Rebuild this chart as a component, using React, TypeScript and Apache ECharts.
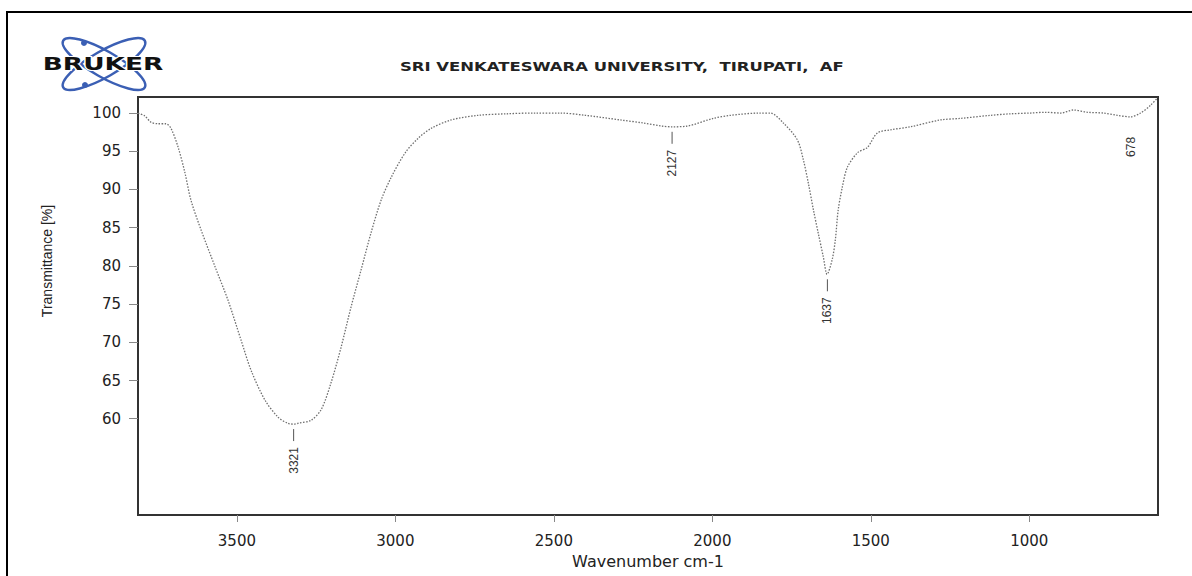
import React, { useEffect, useRef } from "react";
import * as echarts from "echarts";

// Spectrum (wavenumber cm-1, transmittance %)
const wavenumbers = [
  3812, 3790, 3771, 3749, 3724, 3708, 3686, 3664, 3645, 3613, 3569, 3528, 3487, 3455, 3411, 3370,
  3339, 3321, 3307, 3266, 3234, 3203, 3171, 3140, 3108, 3077, 3045, 3013, 2969, 2928, 2887, 2824,
  2739, 2650, 2560, 2480, 2400, 2291, 2218, 2160, 2127, 2079, 1997, 1943, 1849, 1817, 1776, 1732,
  1713, 1697, 1681, 1666, 1650, 1638, 1622, 1612, 1603, 1590, 1574, 1542, 1511, 1479, 1438, 1375,
  1280, 1217, 1123, 1060, 997, 949, 901, 861, 816, 766, 722, 681, 649, 618, 595,
];
const transmittance = [
  100.0, 99.6, 98.8, 98.6, 98.6, 98.0, 95.6, 92.2, 88.6, 84.7, 79.9, 75.5, 70.3, 66.3, 62.4, 60.2,
  59.4, 59.3, 59.4, 59.8, 61.2, 64.7, 69.4, 74.6, 79.5, 84.3, 88.6, 91.6, 94.8, 96.7, 98.0, 99.1,
  99.7, 99.9, 100.0, 100.0, 99.7, 99.1, 98.7, 98.3, 98.2, 98.3, 99.3, 99.7, 100.0, 100.0, 98.7, 96.5,
  93.9, 90.8, 87.3, 84.3, 81.2, 78.9, 80.8, 83.4, 87.3, 90.3, 92.9, 94.8, 95.5, 97.4, 97.8, 98.2,
  99.1, 99.3, 99.7, 99.9, 100.0, 100.1, 100.0, 100.4, 100.1, 100.0, 99.7, 99.5, 100.0, 101.0, 102.0,
];

// Peak picks
const peakWavenumbers = [3321, 2127, 1637, 678];
const peakTransmittance = [59.3, 98.2, 78.9, 99.5];
const peakTickShown = [1, 1, 1, 0];

// Axis ticks
const xTicks = [1000, 1500, 2000, 2500, 3000, 3500];
const yTicks = [60, 65, 70, 75, 80, 85, 90, 95, 100];

const titleText = "SRI VENKATESWARA UNIVERSITY,  TIRUPATI,  AF";
const xName = "Wavenumber cm-1";
const yName = "Transmittance [%]";

export default function App() {
  const ref = useRef<HTMLDivElement>(null);

  useEffect(() => {
    if (!ref.current) return;
    const chart = echarts.init(ref.current, null, { renderer: "svg" });

    const spectrum = wavenumbers.map((w, i) => [w, transmittance[i]]);
    const peaks = peakWavenumbers.map((w, i) => [w, peakTransmittance[i], peakTickShown[i]]);
    const blue = "#3b5fb4";

    chart.setOption({
      animation: false,
      backgroundColor: "#ffffff",
      grid: {
        left: 138,
        top: 97,
        right: 34,
        bottom: 61,
        show: true,
        borderColor: "#333",
        borderWidth: 2,
        containLabel: false,
      },
      xAxis: {
        type: "value",
        inverse: true,
        min: 594,
        max: 3812,
        name: xName,
        nameLocation: "middle",
        nameGap: 38,
        nameTextStyle: { fontFamily: "DejaVu Sans", fontSize: 16, color: "#222" },
        axisLine: { show: false },
        splitLine: { show: false },
        axisTick: { show: true, length: 7, lineStyle: { color: "#888" }, customValues: xTicks },
        axisLabel: {
          customValues: xTicks,
          formatter: (v: number) => String(v),
          margin: 18,
          fontFamily: "DejaVu Sans",
          fontSize: 15,
          color: "#222",
        },
      },
      yAxis: {
        type: "value",
        min: 47.4,
        max: 102.1,
        axisLine: { show: false },
        splitLine: { show: false },
        axisTick: { show: true, length: 9, lineStyle: { color: "#888" }, customValues: yTicks },
        axisLabel: {
          customValues: yTicks,
          formatter: (v: number) => String(v),
          margin: 17,
          fontFamily: "DejaVu Sans",
          fontSize: 15,
          color: "#222",
        },
      },
      graphic: [
        {
          type: "rect",
          silent: true,
          shape: { x: 7, y: 12, width: 1250, height: 650 },
          style: { fill: "none", stroke: "#000", lineWidth: 2 },
        },
        {
          type: "ellipse",
          x: 104,
          y: 64,
          rotation: -0.52,
          shape: { cx: 0, cy: 0, rx: 47, ry: 13 },
          style: { fill: "none", stroke: blue, lineWidth: 2.5 },
        },
        {
          type: "ellipse",
          x: 104,
          y: 64,
          rotation: 0.52,
          shape: { cx: 0, cy: 0, rx: 47, ry: 13 },
          style: { fill: "none", stroke: blue, lineWidth: 2.5 },
        },
        { type: "circle", shape: { cx: 84, cy: 43, r: 3 }, style: { fill: blue } },
        { type: "circle", shape: { cx: 85, cy: 85, r: 3 }, style: { fill: blue } },
        {
          type: "text",
          x: 103,
          y: 64,
          scaleX: 1.55,
          style: {
            text: "BRUKER",
            font: "bold 17px 'DejaVu Sans'",
            fill: "#111",
            stroke: "#fff",
            lineWidth: 2,
            strokeFirst: true,
            align: "center",
            verticalAlign: "middle",
          },
        },
        {
          type: "text",
          x: 400,
          y: 66,
          scaleX: 1.265,
          style: {
            text: titleText,
            font: "bold 13px 'DejaVu Sans'",
            fill: "#222",
            align: "left",
            verticalAlign: "middle",
          },
        },
        {
          type: "text",
          x: 47,
          y: 261,
          rotation: Math.PI / 2,
          style: {
            text: yName,
            font: "14px 'Liberation Sans'",
            fill: "#222",
            align: "center",
            verticalAlign: "middle",
          },
        },
      ],
      series: [
        {
          type: "line",
          data: spectrum,
          showSymbol: false,
          smooth: 0.3,
          lineStyle: { color: "#6f6f6f", width: 1.3, type: [1.5, 1.5] },
          z: 2,
        },
        {
          type: "custom",
          data: peaks,
          z: 3,
          renderItem: (params: any, api: any) => {
            const w = api.value(0);
            const t = api.value(1);
            const showTick = api.value(2);
            const p = api.coord([w, t]);
            const children: any[] = [];
            if (showTick) {
              children.push({
                type: "line",
                shape: { x1: p[0], y1: p[1] + 5, x2: p[0], y2: p[1] + 17 },
                style: { stroke: "#555", lineWidth: 1 },
              });
            }
            children.push({
              type: "text",
              x: p[0],
              y: p[1] + (showTick ? 23 : 20),
              rotation: Math.PI / 2,
              style: {
                text: String(w),
                font: "12px 'Liberation Sans'",
                fill: "#333",
                align: "right",
                verticalAlign: "middle",
              },
            });
            return { type: "group", children };
          },
        },
      ],
    });

    return () => chart.dispose();
  }, []);

  return (
    <div
      ref={ref}
      style={{ position: "absolute", left: 0, top: 0, width: 1192, height: 576, background: "#fff" }}
    />
  );
}
